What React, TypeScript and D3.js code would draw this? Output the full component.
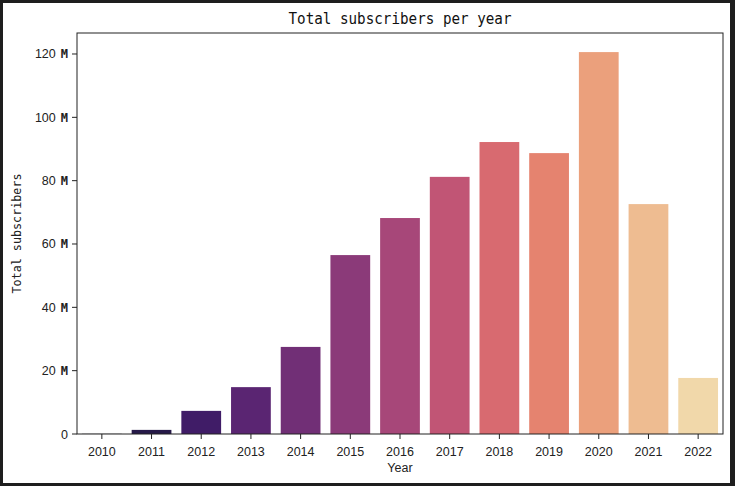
import React from "react";
import * as d3 from "d3";

const years = ["2010","2011","2012","2013","2014","2015","2016","2017","2018","2019","2020","2021","2022"];
const subscribers = [0.05, 1.3, 7.3, 14.8, 27.5, 56.5, 68.2, 81.2, 92.2, 88.7, 120.6, 72.6, 17.7];
const yTicks = [0, 20, 40, 60, 80, 100, 120];
const title = "Total subscribers per year";
const xLabel = "Year";
const yLabel = "Total subscribers";

const W = 735, H = 486;
const M = { left: 77, right: 723, top: 33, bottom: 434 };

function desat(c: string, p: number) {
  const h = d3.hsl(c);
  h.s = h.s * p;
  return h.formatHex();
}

export default function App() {
  const x = d3.scaleBand<string>().domain(years).range([M.left, M.right]).paddingInner(0.2).paddingOuter(0.1);
  const yMax = d3.max(subscribers)! * 1.05;
  const y = d3.scaleLinear().domain([0, yMax]).range([M.bottom, M.top]);
  const colors = years.map((_, i) => desat(d3.interpolateMagma((i + 1) / (years.length + 1)), 0.75));
  const mono = "'DejaVu Sans Mono', 'Liberation Mono', monospace";
  const sans = "'Liberation Sans', Arial, sans-serif";
  return (
    <svg width={W} height={H} style={{ position: "absolute", left: 0, top: 0 }}>
      <rect x={0} y={0} width={W} height={H} fill="#1e1e1e" />
      <rect x={3} y={3} width={W - 8} height={H - 6} fill="#ffffff" />
      {years.map((yr, i) => (
        <rect key={yr} x={x(yr)} y={y(subscribers[i])} width={x.bandwidth()} height={M.bottom - y(subscribers[i])} fill={colors[i]} />
      ))}
      <rect x={M.left} y={M.top} width={M.right - M.left} height={M.bottom - M.top} fill="none" stroke="#222" strokeWidth={1} />
      {yTicks.map((t) => (
        <g key={t}>
          <line x1={M.left - 5} x2={M.left} y1={y(t)} y2={y(t)} stroke="#222" />
          <text x={M.left - 9} y={y(t) + 4.5} textAnchor="end" fontSize={12.5} fontFamily={sans} fill="#222">
            {t === 0 ? "0" : <>{String(t)}<tspan fontFamily={mono} fontWeight="bold" fontSize={12} dx={5}>M</tspan></>}
          </text>
        </g>
      ))}
      {years.map((yr) => (
        <g key={yr}>
          <line x1={x(yr)! + x.bandwidth() / 2} x2={x(yr)! + x.bandwidth() / 2} y1={M.bottom} y2={M.bottom + 5} stroke="#222" />
          <text x={x(yr)! + x.bandwidth() / 2} y={M.bottom + 22} textAnchor="middle" fontSize={12.5} fontFamily={sans} fill="#222">{yr}</text>
        </g>
      ))}
      <text x={(M.left + M.right) / 2} y={472} textAnchor="middle" fontSize={12.5} fontFamily={sans} fill="#222">{xLabel}</text>
      <text transform={`translate(21,${(M.top + M.bottom) / 2}) rotate(-90)`} textAnchor="middle" fontSize={12.5} fontFamily={mono} fill="#222" textLength={120} lengthAdjust="spacingAndGlyphs">{yLabel}</text>
      <text x={(M.left + M.right) / 2} y={24} textAnchor="middle" fontSize={15} fontFamily={mono} fill="#111" textLength={223} lengthAdjust="spacingAndGlyphs">{title}</text>
    </svg>
  );
}
